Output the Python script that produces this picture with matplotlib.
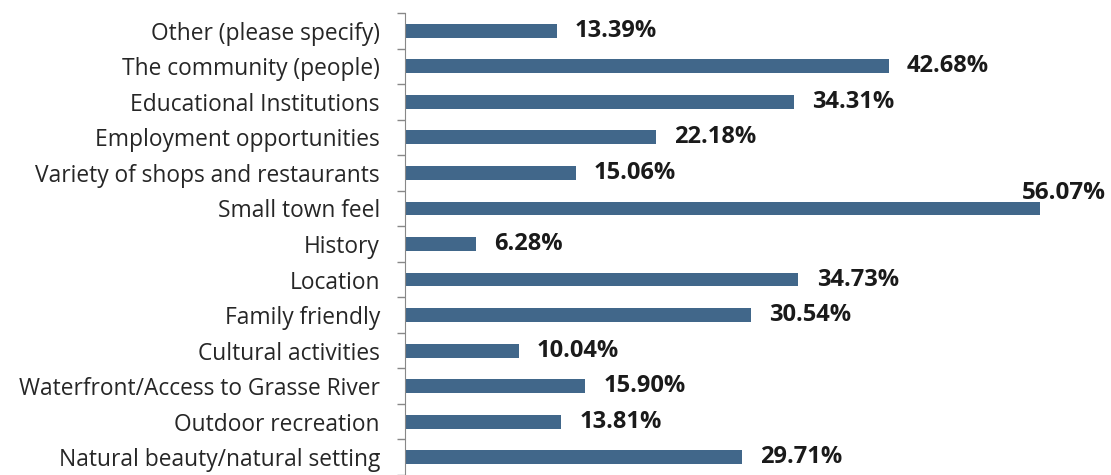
import numpy as np
import matplotlib.pyplot as plt

# categories listed top to bottom as in the survey chart
cats = ['Other (please specify)', 'The community (people)', 'Educational Institutions',
        'Employment opportunities', 'Variety of shops and restaurants', 'Small town feel',
        'History', 'Location', 'Family friendly', 'Cultural activities',
        'Waterfront/Access to Grasse River', 'Outdoor recreation',
        'Natural beauty/natural setting']
vals = [13.39, 42.68, 34.31, 22.18, 15.06, 56.07, 6.28, 34.73, 30.54, 10.04,
        15.90, 13.81, 29.71]

W, H, DPI = 1111, 475, 100
fig = plt.figure(figsize=(W / DPI, H / DPI), dpi=DPI)
x0 = 405 / W
top = 13 / H
ax = fig.add_axes([x0, 0, 1 - x0, 1 - top])

y = np.arange(len(cats))
ax.barh(y, vals, height=0.39, color='#41678a')
ax.set_ylim(12.26, -0.5)
ax.set_xlim(0, (W - 405) / 11.33)

ax.set_yticks(y)
ax.set_yticklabels(cats, fontsize=16.4, color='#262626', family='Open Sans')
ax.tick_params(axis='y', which='major', length=0, pad=18)
ax.set_yticks(np.arange(len(cats) + 1) - 0.5, minor=True)
ax.tick_params(axis='y', which='minor', length=6, color='#888888', width=1)
ax.set_xticks([])
for s in ['top', 'right', 'bottom']:
    ax.spines[s].set_visible(False)
ax.spines['left'].set_color('#888888')

for i, v in enumerate(vals):
    lab = '%.2f%%' % v
    if v == max(vals):
        # doesn't fit beside the bar, sits above its right end
        ax.text(v + 5.8, i - 0.28, lab, ha='right', va='baseline', fontsize=17.5,
                fontweight='bold', color='#1a1a1a', family='Open Sans')
    else:
        ax.text(v + 1.6, i, lab, ha='left', va='center', fontsize=17,
                fontweight='bold', color='#1a1a1a', family='Open Sans')

fig.savefig('out.png', dpi=DPI)
